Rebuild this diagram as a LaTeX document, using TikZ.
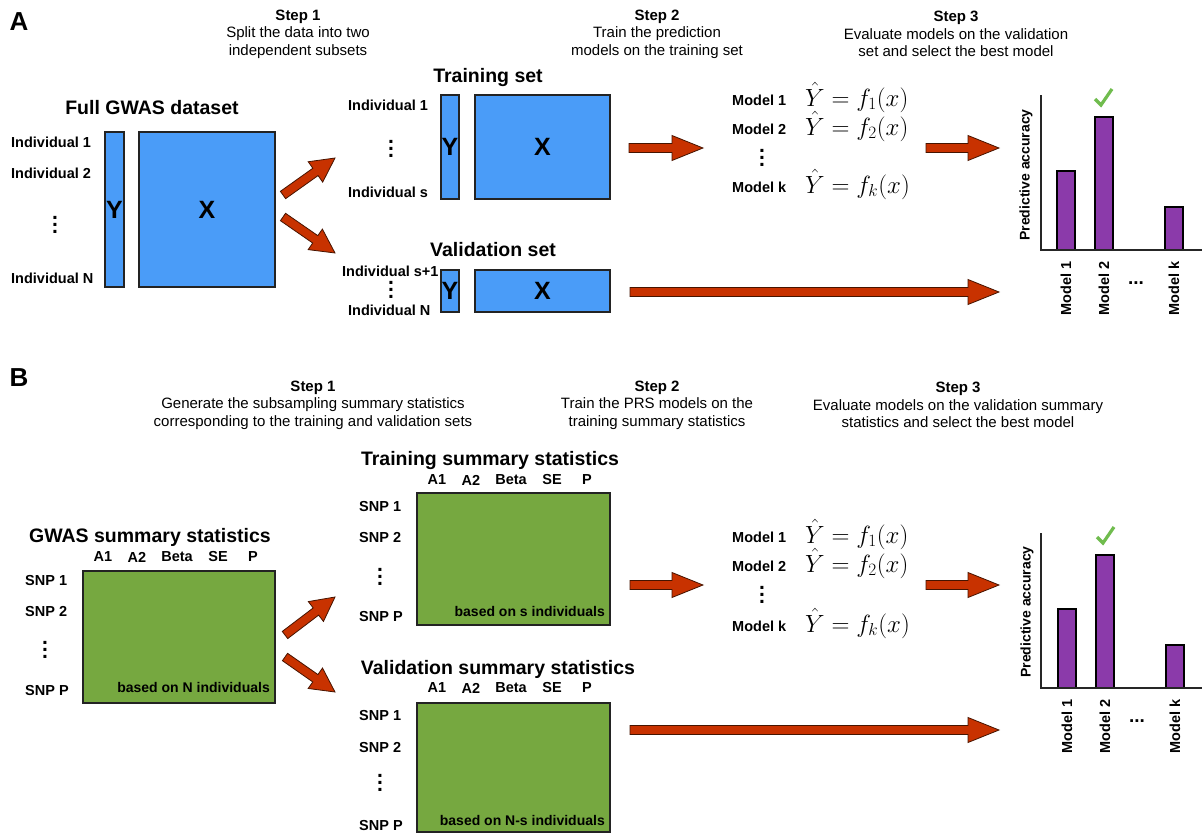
\documentclass[tikz,border=0pt]{standalone}
\usepackage{amsmath}
\usepackage[no-math]{fontspec}
\setmainfont{Liberation Sans}
\usepackage{tikz}
\usetikzlibrary{calc}

\definecolor{boxblue}{RGB}{74,156,248}
\definecolor{boxgreen}{RGB}{118,168,64}
\definecolor{barpurple}{RGB}{139,58,170}
\definecolor{arrowred}{RGB}{200,50,0}
\definecolor{arrowedge}{RGB}{70,20,0}
\definecolor{checkgreen}{RGB}{112,188,78}
\definecolor{edgegray}{RGB}{35,35,35}

\newcommand{\vdotlist}{{\fontsize{21}{21}\selectfont\vbox{\baselineskip=7pt\lineskiplimit=-20pt\hbox{.}\hbox{.}\hbox{.}}}}

\begin{document}
\begin{tikzpicture}[x=1pt, y=-1pt,
	lab/.style={inner sep=0pt, font=\fontsize{14.5}{17}\selectfont\bfseries},
	ttl/.style={inner sep=0pt, font=\fontsize{19.5}{22}\selectfont\bfseries},
	stepnote/.style={inner sep=0pt, align=center, font=\fontsize{15}{17.5}\selectfont},
	panel/.style={inner sep=0pt, font=\fontsize{26}{30}\selectfont\bfseries},
	bluebox/.style={draw=edgegray, line width=1.2pt, fill=boxblue, inner sep=0pt, outer sep=0pt, font=\fontsize{25}{28}\selectfont\bfseries},
	greenbox/.style={draw=edgegray, line width=1.2pt, fill=boxgreen, inner sep=0pt, outer sep=0pt},
	eq/.style={inner sep=0pt, anchor=base west, font=\fontsize{23}{26}\selectfont},
	bar/.style={draw=black, line width=1.2pt, fill=barpurple},
	axis/.style={draw=black!85, line width=1.2pt},
	check/.style={draw=checkgreen, line width=3.2pt},
	fat arrow/.style={draw=arrowedge, fill=arrowred, line width=0.8pt, line join=miter,
		to path={let \p1=(\tikztostart), \p2=(\tikztotarget), \p3=($(\p2)!#1pt!(\p1)$) in
			($(\p1)!4.5pt!90:(\p2)$) -- ($(\p3)!4.5pt!-90:(\p1)$) -- ($(\p3)!12.5pt!-90:(\p1)$) -- (\p2)
			-- ($(\p3)!12.5pt!90:(\p1)$) -- ($(\p3)!4.5pt!90:(\p1)$) -- ($(\p1)!4.5pt!-90:(\p2)$) -- cycle}},
	fat arrow/.default=31]
	\useasboundingbox (0,0) rectangle (1202,835);

	\node (panA) at (19,22) [panel] {A};
	\node (stepA1) at (298,34) [stepnote] {\textbf{Step 1}\\Split the data into two\\independent subsets};
	\node (stepA2) at (657,34) [stepnote] {\textbf{Step 2}\\Train the prediction\\models on the training set};
	\node (stepA3) at (956,34) [stepnote] {\textbf{Step 3}\\Evaluate models on the validation\\set and select the best model};

	\node (fullT) at (152,108) [ttl] {Full GWAS dataset};
		\node (full1) at (11,142) [lab, anchor=west] {Individual 1};
		\node (full2) at (11,173) [lab, anchor=west] {Individual 2};
		\node (fullD) at (55,225) [lab] {\vdotlist};
		\node (fullN) at (11,278) [lab, anchor=west] {Individual N};
		\node (fullY) at (114.5,209.5) [bluebox, minimum width=19pt, minimum height=155pt] {Y};
		\node (fullX) at (207,209.5) [bluebox, minimum width=136pt, minimum height=155pt] {X};

	\node (trainT) at (488,77) [ttl] {Training set};
		\node (train1) at (348,105) [lab, anchor=west] {Individual 1};
		\node (trainD) at (391,149) [lab] {\vdotlist};
		\node (trainS) at (348,192) [lab, anchor=west] {Individual s};
		\node (trainY) at (450,147) [bluebox, minimum width=18pt, minimum height=104pt] {Y};
		\node (trainX) at (542.5,147) [bluebox, minimum width=135pt, minimum height=104pt] {X};

	\node (valT) at (493,250) [ttl] {Validation set};
		\node (val1) at (342,271) [lab, anchor=west] {Individual s+1};
		\node (valD) at (391,290) [lab] {\vdotlist};
		\node (valN) at (348,310) [lab, anchor=west] {Individual N};
		\node (valY) at (450,291) [bluebox, minimum width=18pt, minimum height=42pt] {Y};
		\node (valX) at (542.5,291) [bluebox, minimum width=135pt, minimum height=42pt] {X};

	\node (modA1) at (732,100) [lab, anchor=west] {Model 1};
	\node (modA2) at (732,129) [lab, anchor=west] {Model 2};
	\node (modAD) at (762,158) [lab] {\vdotlist};
	\node (modAk) at (732,187) [lab, anchor=west] {Model k};
	\node (eqA1) at (805,106) [eq] {$\smash{\hat{Y}} = f_1(x)$};
	\node (eqA2) at (805,135) [eq] {$\smash{\hat{Y}} = f_2(x)$};
	\node (eqAk) at (805,193) [eq] {$\smash{\hat{Y}} = f_k(x)$};

	\draw[bar] (1057,250) rectangle (1075,171);
	\draw[bar] (1095,250) rectangle (1113,117);
	\draw[bar] (1165,250) rectangle (1183,207);
	\draw[axis] (1041,95) -- (1041,250) -- (1202,250);
	\draw[check] (1095,99) -- (1101,105) -- (1112,89);
	\node (accA) at (1026,175) [lab, rotate=90, font=\fontsize{14}{16}\selectfont\bfseries] {Predictive accuracy};
	\node (tickA1) at (1066,261) [lab, rotate=90, anchor=east] {Model 1};
	\node (tickA2) at (1104,261) [lab, rotate=90, anchor=east] {Model 2};
	\node (tickAD) at (1136,283) [lab, font=\fontsize{19}{19}\selectfont\bfseries] {...};
	\node (tickAk) at (1174,261) [lab, rotate=90, anchor=east] {Model k};

	\coordinate (splitA0) at (283,195);
	\coordinate (splitA1) at (335,158);
	\coordinate (splitA2) at (283,217);
	\coordinate (splitA3) at (335,253);
	\coordinate (fitA0) at (629,148);
	\coordinate (fitA1) at (703,148);
	\coordinate (evalA0) at (926,148);
	\coordinate (evalA1) at (999,148);
	\coordinate (longA0) at (630,292);
	\coordinate (longA1) at (999,292);
	\draw[fat arrow=24] (splitA0) to (splitA1);
	\draw[fat arrow=24] (splitA2) to (splitA3);
	\draw[fat arrow] (fitA0) to (fitA1);
	\draw[fat arrow] (evalA0) to (evalA1);
	\draw[fat arrow] (longA0) to (longA1);

	\node (panB) at (19,378) [panel] {B};
	\node (stepB1) at (313,405) [stepnote] {\textbf{Step 1}\\Generate the subsampling summary statistics\\corresponding to the training and validation sets};
	\node (stepB2) at (657,405) [stepnote] {\textbf{Step 2}\\Train the PRS models on the\\training summary statistics};
	\node (stepB3) at (958,405) [stepnote] {\textbf{Step 3}\\Evaluate models on the validation summary\\statistics and select the best model};

	\node (gwasT) at (150,537) [ttl] {GWAS summary statistics};
		\node (hdG1) at (103,557) [lab] {A1};
		\node (hdG2) at (137,557) [lab] {A2};
		\node (hdG3) at (177,557) [lab] {Beta};
		\node (hdG4) at (218,557) [lab] {SE};
		\node (hdG5) at (253,557) [lab] {P};
		\node (gwas1) at (25,581) [lab, anchor=west] {SNP 1};
		\node (gwas2) at (25,612) [lab, anchor=west] {SNP 2};
		\node (gwasD) at (45,650) [lab] {\vdotlist};
		\node (gwasP) at (25,690) [lab, anchor=west] {SNP P};
		\node (gwasM) at (179,637) [greenbox, minimum width=192pt, minimum height=132pt] {};
		\node (gwasN) at (270,687) [lab, anchor=east, font=\fontsize{14}{16}\selectfont\bfseries] {based on N individuals};

	\node (trsT) at (490,460) [ttl] {Training summary statistics};
		\node (hdT1) at (437,480) [lab] {A1};
		\node (hdT2) at (471,480) [lab] {A2};
		\node (hdT3) at (511,480) [lab] {Beta};
		\node (hdT4) at (552,480) [lab] {SE};
		\node (hdT5) at (587,480) [lab] {P};
		\node (trs1) at (359,507) [lab, anchor=west] {SNP 1};
		\node (trs2) at (359,538) [lab, anchor=west] {SNP 2};
		\node (trsD) at (380,577) [lab] {\vdotlist};
		\node (trsP) at (359,617) [lab, anchor=west] {SNP P};
		\node (trsM) at (513.5,559) [greenbox, minimum width=193pt, minimum height=132pt] {};
		\node (trsN) at (605,611) [lab, anchor=east, font=\fontsize{14}{16}\selectfont\bfseries] {based on s individuals};

	\node (vasT) at (498,669) [ttl] {Validation summary statistics};
		\node (hdV1) at (437,688) [lab] {A1};
		\node (hdV2) at (471,688) [lab] {A2};
		\node (hdV3) at (511,688) [lab] {Beta};
		\node (hdV4) at (552,688) [lab] {SE};
		\node (hdV5) at (587,688) [lab] {P};
		\node (vas1) at (359,715) [lab, anchor=west] {SNP 1};
		\node (vas2) at (359,747) [lab, anchor=west] {SNP 2};
		\node (vasD) at (380,783) [lab] {\vdotlist};
		\node (vasP) at (359,825) [lab, anchor=west] {SNP P};
		\node (vasM) at (513.5,767.5) [greenbox, minimum width=193pt, minimum height=129pt] {};
		\node (vasN) at (605,820) [lab, anchor=east, font=\fontsize{14}{16}\selectfont\bfseries] {based on N-s individuals};

	\node (modB1) at (732,537) [lab, anchor=west] {Model 1};
	\node (modB2) at (732,566) [lab, anchor=west] {Model 2};
	\node (modBD) at (762,595) [lab] {\vdotlist};
	\node (modBk) at (732,626) [lab, anchor=west] {Model k};
	\node (eqB1) at (805,543) [eq] {$\smash{\hat{Y}} = f_1(x)$};
	\node (eqB2) at (805,572) [eq] {$\smash{\hat{Y}} = f_2(x)$};
	\node (eqBk) at (805,632) [eq] {$\smash{\hat{Y}} = f_k(x)$};

	\draw[bar] (1058,688) rectangle (1076,609);
	\draw[bar] (1096,688) rectangle (1114,555);
	\draw[bar] (1166,688) rectangle (1184,645);
	\draw[axis] (1041,533) -- (1041,688) -- (1202,688);
	\draw[check] (1097,537) -- (1103,543) -- (1114,527);
	\node (accB) at (1027,612) [lab, rotate=90, font=\fontsize{14}{16}\selectfont\bfseries] {Predictive accuracy};
	\node (tickB1) at (1067,699) [lab, rotate=90, anchor=east] {Model 1};
	\node (tickB2) at (1105,699) [lab, rotate=90, anchor=east] {Model 2};
	\node (tickBD) at (1137,721) [lab, font=\fontsize{19}{19}\selectfont\bfseries] {...};
	\node (tickBk) at (1175,699) [lab, rotate=90, anchor=east] {Model k};

	\coordinate (splitB0) at (285,635);
	\coordinate (splitB1) at (335,597);
	\coordinate (splitB2) at (285,657);
	\coordinate (splitB3) at (335,692);
	\coordinate (fitB0) at (630,585);
	\coordinate (fitB1) at (703,585);
	\coordinate (evalB0) at (926,585);
	\coordinate (evalB1) at (999,585);
	\coordinate (longB0) at (630,730);
	\coordinate (longB1) at (999,730);
	\draw[fat arrow=24] (splitB0) to (splitB1);
	\draw[fat arrow=24] (splitB2) to (splitB3);
	\draw[fat arrow] (fitB0) to (fitB1);
	\draw[fat arrow] (evalB0) to (evalB1);
	\draw[fat arrow] (longB0) to (longB1);
\end{tikzpicture}
\end{document}
